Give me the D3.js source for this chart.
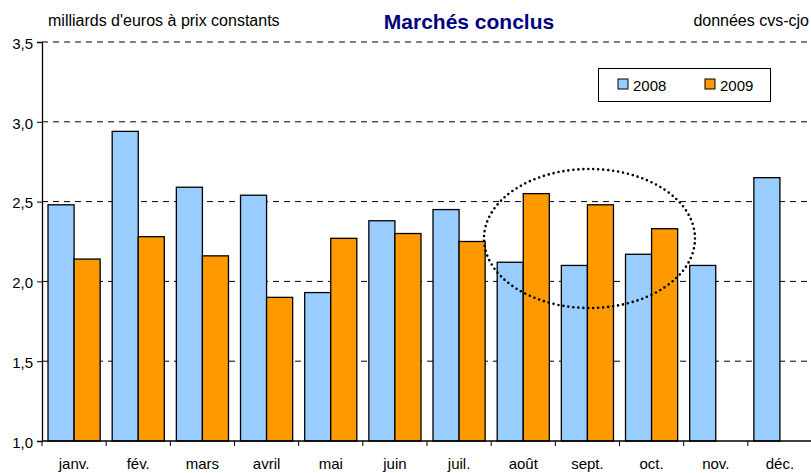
<!DOCTYPE html>
<html><head><meta charset="utf-8">
<script src="https://cdn.jsdelivr.net/npm/d3@7"></script>
<style>body{margin:0;background:#fff}svg{display:block;font-family:Arial,"Liberation Sans",sans-serif}</style>
</head><body><svg id="c" width="811" height="473"></svg>
<script>
const months = ["janv.","fév.","mars","avril","mai","juin","juil.","août","sept.","oct.","nov.","déc."];
const series = ["2008","2009"];
const values2008 = [2.48,2.94,2.59,2.54,1.93,2.38,2.45,2.12,2.10,2.17,2.10,2.65];
const values2009 = [2.14,2.28,2.16,1.90,2.27,2.30,2.25,2.55,2.48,2.33,null,null];
const yTicks = [1.0,1.5,2.0,2.5,3.0,3.5];
const colors = ["#99CCFF","#FF9900"];

const svg = d3.select("#c");
const L=42, R=812, T=42, B=441;
const x = d3.scaleBand().domain(months).range([L,R]).paddingInner(0.1875).paddingOuter(0.09375);
const xs = d3.scaleBand().domain(series).range([0,x.bandwidth()]);
const y = d3.scaleLinear().domain([1,3.5]).range([B,T]);
const fmt = d => d3.format(".1f")(d).replace(".",",");

// grid
svg.append("g").selectAll("line").data(yTicks.filter(d=>d>1)).join("line")
  .attr("x1",L).attr("x2",811).attr("y1",d=>y(d)).attr("y2",d=>y(d))
  .attr("stroke","#000").attr("stroke-width",1).attr("stroke-dasharray","6,5");

// bars
const data = [];
months.forEach((m,i)=>{
  [values2008[i],values2009[i]].forEach((v,j)=>{ if(v!=null) data.push({m,s:series[j],v,j}); });
});
svg.append("g").selectAll("rect").data(data).join("rect")
  .attr("x",d=>x(d.m)+xs(d.s)).attr("width",xs.bandwidth())
  .attr("y",d=>y(d.v)).attr("height",d=>B-y(d.v))
  .attr("fill",d=>colors[d.j]).attr("stroke","#000").attr("stroke-width",1.3);

// y axis
const ya = svg.append("g").attr("transform",`translate(${L},0)`)
  .call(d3.axisLeft(y).tickValues(yTicks).tickFormat(fmt).tickSize(5).tickPadding(4));
ya.select(".domain").attr("stroke","#000").attr("stroke-width",1.3);
ya.selectAll("text").attr("font-size",15).attr("dy","0.42em").attr("fill","#000").attr("font-family","Arial,'Liberation Sans',sans-serif");

// x axis
const xa = svg.append("g").attr("transform",`translate(0,${B})`);
xa.append("line").attr("x1",L).attr("x2",811).attr("stroke","#000").attr("stroke-width",1.3);
xa.selectAll("line.t").data(d3.range(months.length)).join("line").attr("class","t")
  .attr("x1",i=>x(months[i])-x.step()*x.paddingOuter()).attr("x2",i=>x(months[i])-x.step()*x.paddingOuter())
  .attr("y1",0).attr("y2",5).attr("stroke","#000");
xa.selectAll("text").data(months).join("text")
  .attr("x",d=>x(d)+x.bandwidth()/2).attr("y",28).attr("text-anchor","middle")
  .attr("font-size",15).text(d=>d);

// ellipse
svg.append("ellipse").attr("cx",589.5).attr("cy",238.5).attr("rx",105.5).attr("ry",69.5)
  .attr("fill","none").attr("stroke","#000").attr("stroke-width",2.6)
  .attr("stroke-linecap","round").attr("stroke-dasharray","0,5");

// titles
svg.append("text").attr("x",48).attr("y",26).attr("font-size",16).text("milliards d'euros à prix constants");
svg.append("text").attr("x",809).attr("y",26).attr("font-size",16).attr("text-anchor","end").text("données cvs-cjo");
svg.append("text").attr("x",469).attr("y",29).attr("font-size",21).attr("font-weight","bold")
  .attr("fill","#000080").attr("text-anchor","middle").text("Marchés conclus");

// legend
const lg = svg.append("g");
lg.append("rect").attr("x",598.5).attr("y",68.5).attr("width",172).attr("height",33)
  .attr("fill","#fff").attr("stroke","#000").attr("stroke-width",1);
series.forEach((s,j)=>{
  const gx = 618 + j*87;
  lg.append("rect").attr("x",gx).attr("y",79).attr("width",10).attr("height",10)
    .attr("fill",colors[j]).attr("stroke","#000").attr("stroke-width",1);
  lg.append("text").attr("x",gx+15).attr("y",90.5).attr("font-size",15).text(s);
});
</script></body></html>
